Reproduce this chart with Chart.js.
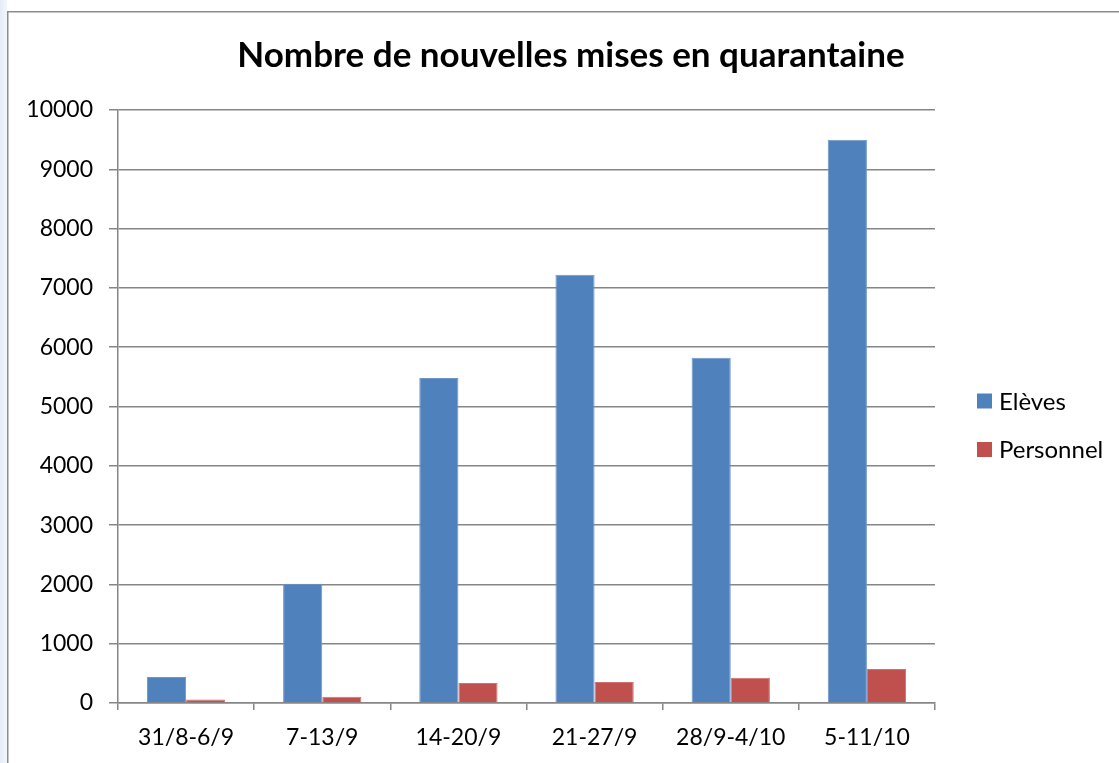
<!DOCTYPE html>
<html>
<head>
<meta charset="utf-8">
<script src="https://cdn.jsdelivr.net/npm/chart.js@4.4.0/dist/chart.umd.min.js"></script>
<style>
html,body{margin:0;padding:0;background:#fff;}
#wrap{position:relative;width:1119px;height:763px;}
canvas{display:block;}
</style>
</head>
<body>
<div id="wrap"><canvas id="c" width="1119" height="763"></canvas></div>
<script>
const title = "Nombre de nouvelles mises en quarantaine";
const categories = ["31/8-6/9", "7-13/9", "14-20/9", "21-27/9", "28/9-4/10", "5-11/10"];
const eleves = [440, 2010, 5480, 7220, 5820, 9500];
const personnel = [60, 105, 337, 354, 427, 573];
const seriesNames = ["Elèves", "Personnel"];
const yTicks = [0, 1000, 2000, 3000, 4000, 5000, 6000, 7000, 8000, 9000, 10000];

const FONT = "Lato, 'Open Sans', 'Liberation Sans', sans-serif";

const frame = {
  id: 'frame',
  beforeDraw(chart) {
    const ctx = chart.ctx;
    ctx.save();
    ctx.fillStyle = '#ffffff';
    ctx.fillRect(0, 0, chart.width, chart.height);
    const g = ctx.createLinearGradient(0, 0, 7, 0);
    g.addColorStop(0, '#e4ecf8');
    g.addColorStop(1, '#f3f6fc');
    ctx.fillStyle = g;
    ctx.fillRect(0, 0, 7, chart.height);
    ctx.strokeStyle = '#8c8c8c';
    ctx.lineWidth = 1.5;
    ctx.beginPath();
    ctx.moveTo(7.75, chart.height + 2);
    ctx.lineTo(7.75, 11.75);
    ctx.lineTo(chart.width + 2, 11.75);
    ctx.stroke();
    ctx.restore();
  },
  afterDraw(chart) {
    const ctx = chart.ctx;
    ctx.save();
    ctx.fillStyle = '#000';
    ctx.font = "bold 35px " + FONT;
    ctx.textAlign = 'center';
    ctx.textBaseline = 'middle';
    ctx.fillText(title, 571, 56);
    ctx.font = "24px " + FONT;
    ctx.textAlign = 'left';
    const ys = [401, 449.5];
    chart.data.datasets.forEach((ds, i) => {
      ctx.fillStyle = ds.backgroundColor;
      ctx.fillRect(977, ys[i] - 7.5, 15, 15);
      ctx.fillStyle = '#000';
      ctx.fillText(ds.label, 999, ys[i] + 1);
    });
    ctx.restore();
  }
};

new Chart(document.getElementById('c'), {
  type: 'bar',
  data: {
    labels: categories,
    datasets: [
      { label: seriesNames[0], data: eleves, backgroundColor: '#4f81bd', borderColor: '#6d97c9', borderWidth: {top:1,left:1,right:1,bottom:0} },
      { label: seriesNames[1], data: personnel, backgroundColor: '#c0504d', borderColor: '#d07270', borderWidth: {top:1,left:1,right:1,bottom:0} }
    ]
  },
  options: {
    responsive: false,
    animation: false,
    devicePixelRatio: 1,
    layout: { padding: { left: 0, right: 184, top: 110, bottom: 0 } },
    datasets: { bar: { barPercentage: 1, categoryPercentage: 0.575 } },
    plugins: { legend: { display: false }, title: { display: false }, tooltip: { enabled: false } },
    scales: {
      x: {
        offset: true,
        grid: { offset: true, drawOnChartArea: false, drawTicks: true, tickLength: 7, color: '#868686', lineWidth: 1.5 },
        border: { display: true, color: '#868686', width: 1.5 },
        ticks: { color: '#000', font: { family: FONT, size: 23 }, padding: 14, maxRotation: 0, autoSkip: false },
        afterFit(s) { s.height = 60; }
      },
      y: {
        min: 0, max: 10000,
        afterBuildTicks(s) { s.ticks = yTicks.map(v => ({ value: v })); },
        grid: { color: '#868686', lineWidth: 1.5, drawTicks: true, tickLength: 9 },
        border: { display: true, color: '#868686', width: 1.5 },
        ticks: { color: '#000', font: { family: FONT, size: 23 }, padding: 16, callback: v => String(v) },
        afterFit(s) { s.width = 118; }
      }
    }
  },
  plugins: [frame]
});
</script>
</body>
</html>
